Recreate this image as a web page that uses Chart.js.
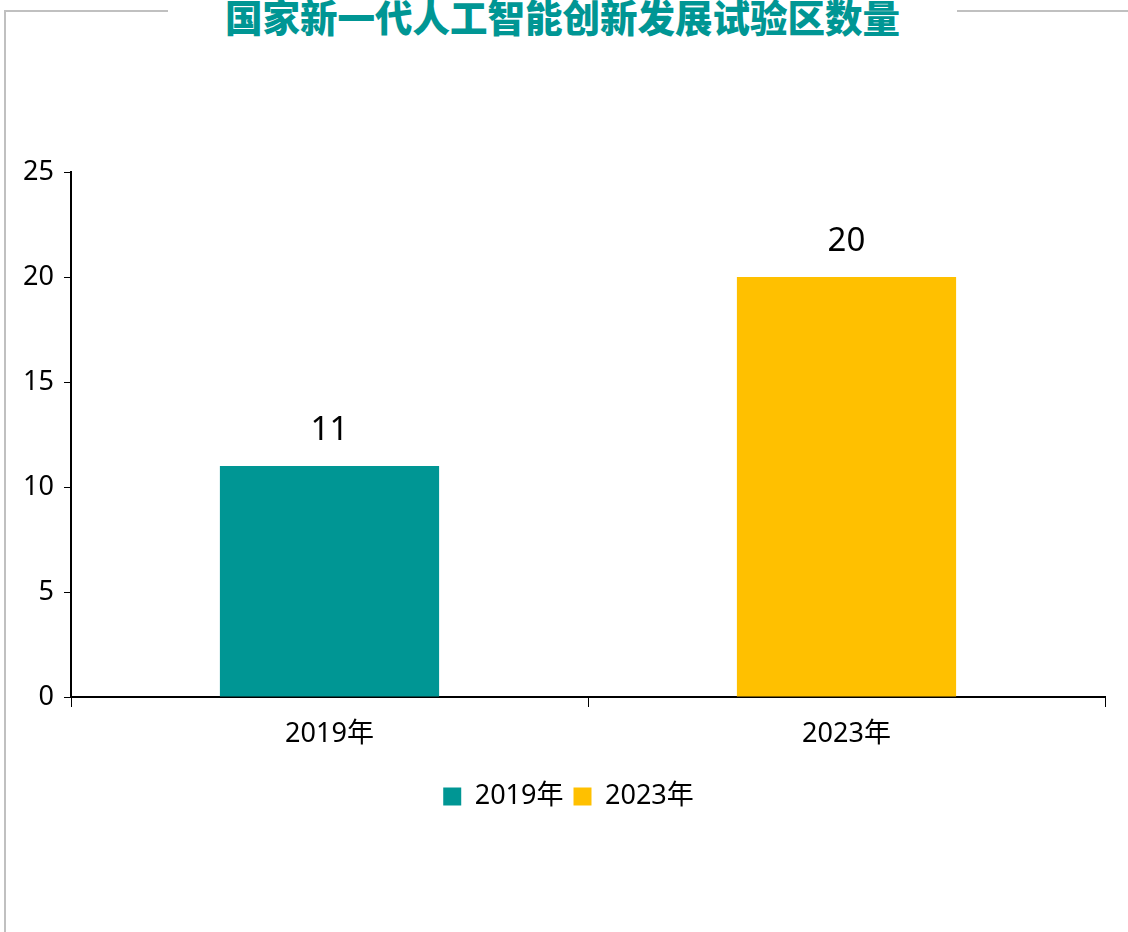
<!DOCTYPE html>
<html>
<head>
<meta charset="utf-8">
<script src="https://cdn.jsdelivr.net/npm/chart.js@4"></script>
<style>
  body { margin: 0; background: #fff; overflow: hidden; }
  #frame { position: absolute; left: 4px; top: 10px; width: 1200px; height: 1000px;
           border-top: 2px solid #c0c0c0; border-left: 2px solid #c0c0c0; }
  #title { position: absolute; left: 168px; width: 789px; top: -12px; height: 36px; line-height: 36px;
           background: #fff; text-align: center; color: #009694;
           font: 900 37.5px "Noto Sans CJK SC", sans-serif; }
  #cover { position: absolute; left: 168px; width: 789px; top: 0; height: 24px; background: #fff; }
  #chart { position: absolute; left: 0; top: 0; }
</style>
</head>
<body>
<div id="frame"></div>
<div id="cover"></div>
<div id="title">国家新一代人工智能创新发展试验区数量</div>
<canvas id="chart" width="1128" height="932"></canvas>
<script>
const years = ['2019年', '2023年'];
const counts = [11, 20];
const barColors = ['#009694', '#FFC000'];
const yTicks = [0, 5, 10, 15, 20, 25];
const fontFamily = '"Noto Sans", "Noto Sans CJK SC", sans-serif';

const valueLabels = {
    id: 'valueLabels',
    afterDatasetsDraw(chart){
        const ctx = chart.ctx;
        const meta = chart.getDatasetMeta(0);
        ctx.save();
        ctx.font = '33px ' + fontFamily;
        ctx.fillStyle = '#000';
        ctx.textAlign = 'center';
        ctx.textBaseline = 'middle';
        meta.data.forEach((bar, i) => {
            ctx.fillText(counts[i], bar.x, bar.y - 35);
        });
        ctx.restore();
    }
};

// legend sits a bit right of the canvas middle in the original
const legendShift = {
    id: 'legendShift',
    afterLayout(chart){
        chart.legend.left += 32;
    }
};

function getChart(){
    const ctx = document.getElementById('chart').getContext('2d');
    const chart = new Chart(ctx, {
        type: 'bar',
        data: {
            labels: years,
            datasets: [{
                label: '数量',
                backgroundColor: barColors,
                data: counts,
                barPercentage: 0.424,
                categoryPercentage: 1
            }]
        },
        options: {
            responsive: false,
            animation: false,
            layout: { padding: { top: 172, right: 23, bottom: 112, left: 0 } },
            scales: {
                x: {
                    afterFit: (s) => { s.height = 76; },
                    border: { color: '#000', width: 2 },
                    grid: { display: true, drawOnChartArea: false, offset: true, tickLength: 10, color: '#000', lineWidth: 1 },
                    ticks: { color: '#000', padding: 11, font: { size: 27, family: fontFamily } }
                },
                y: {
                    min: 0,
                    max: 25,
                    afterFit: (s) => { s.width = 71; },
                    afterBuildTicks: (s) => { s.ticks = yTicks.map(v => ({ value: v })); },
                    border: { color: '#000', width: 2 },
                    grid: { display: true, drawOnChartArea: false, tickLength: 7, color: '#000', lineWidth: 1 },
                    ticks: { color: '#000', padding: 10, font: { size: 27, family: fontFamily } }
                }
            },
            plugins: {
                legend: {
                    position: 'bottom',
                    labels: {
                        boxWidth: 18,
                        boxHeight: 18,
                        padding: 10,
                        color: '#000',
                        font: { size: 27, family: fontFamily },
                        generateLabels: () => years.map((y, i) => ({
                            text: y,
                            fillStyle: barColors[i],
                            strokeStyle: barColors[i],
                            lineWidth: 0,
                            hidden: false,
                            index: i
                        }))
                    }
                },
                tooltip: { enabled: false }
            }
        },
        plugins: [valueLabels, legendShift]
    });
}
getChart();
</script>
</body>
</html>
